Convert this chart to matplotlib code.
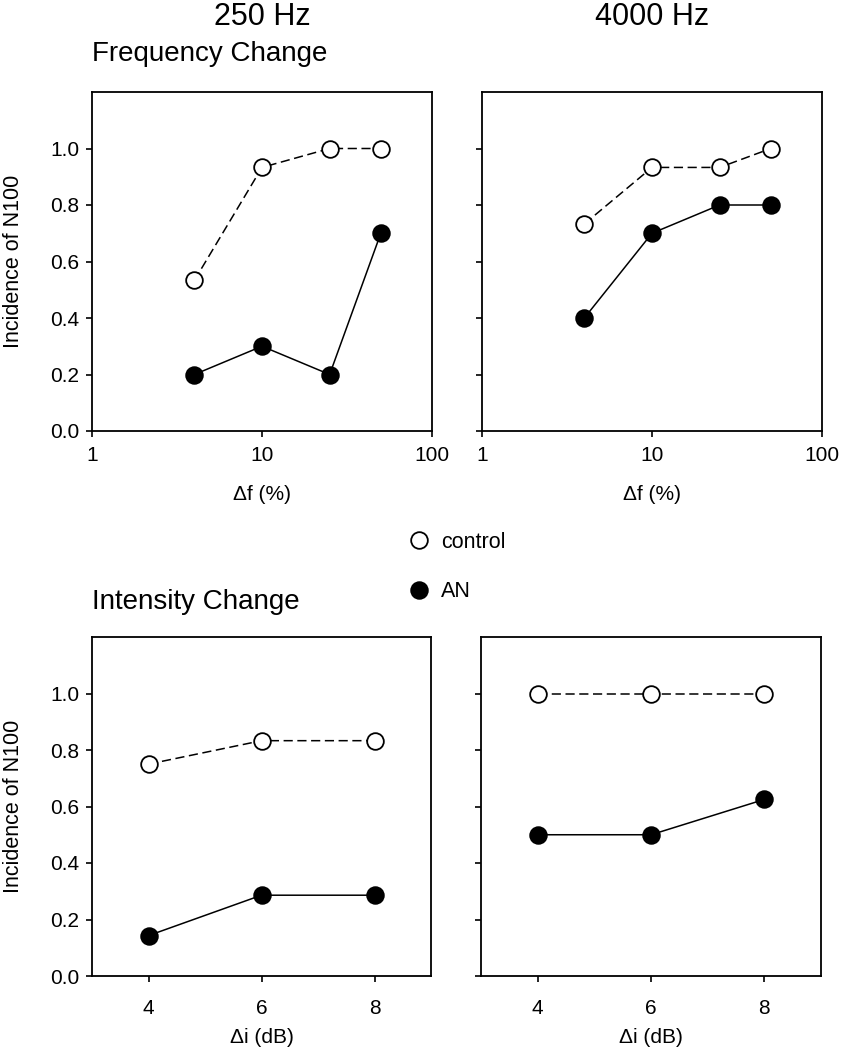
import matplotlib
matplotlib.use("Agg")
from matplotlib import pyplot as plt
from matplotlib.lines import Line2D

plt.rcParams['font.family'] = ['Liberation Sans', 'DejaVu Sans']

# frequency change (x = delta f in %)
df_pct = [4, 10, 25, 50]
f250_control = [0.533, 0.933, 1.0, 1.0]
f250_an = [0.2, 0.3, 0.2, 0.7]
f4000_control = [0.733, 0.933, 0.933, 1.0]
f4000_an = [0.4, 0.7, 0.8, 0.8]

# intensity change (x = delta i in dB)
di_db = [4, 6, 8]
i250_control = [0.75, 0.833, 0.833]
i250_an = [0.143, 0.286, 0.286]
i4000_control = [1.0, 1.0, 1.0]
i4000_an = [0.5, 0.5, 0.625]

W, H = 841, 1050
fig = plt.figure(figsize=(W / 100, H / 100), dpi=100)


def box(x0, y0, x1, y1):
    # pixel box -> figure fraction
    return [x0 / W, 1 - y1 / H, (x1 - x0) / W, (y1 - y0) / H]


ax_tl = fig.add_axes(box(92, 92, 432, 431))
ax_tr = fig.add_axes(box(482, 92, 822, 431))
ax_bl = fig.add_axes(box(92, 637, 431, 976))
ax_br = fig.add_axes(box(481, 637, 821, 976))

ms = 12
ctrl_kw = dict(color='black', ls=(0, (6, 3)), lw=1.1, marker='o', ms=ms,
               mfc='white', mec='black', mew=1.3)
an_kw = dict(color='black', ls='-', lw=1.1, marker='o', ms=ms,
             mfc='black', mec='black', mew=1.3)

ax_tl.plot(df_pct, f250_control, **ctrl_kw)
ax_tl.plot(df_pct, f250_an, **an_kw)
ax_tr.plot(df_pct, f4000_control, **ctrl_kw)
ax_tr.plot(df_pct, f4000_an, **an_kw)
ax_bl.plot(di_db, i250_control, **ctrl_kw)
ax_bl.plot(di_db, i250_an, **an_kw)
ax_br.plot(di_db, i4000_control, **ctrl_kw)
ax_br.plot(di_db, i4000_an, **an_kw)

yticks = [0.0, 0.2, 0.4, 0.6, 0.8, 1.0]
for ax in [ax_tl, ax_tr, ax_bl, ax_br]:
    ax.set_ylim(0, 1.2)
    ax.set_yticks(yticks)
    ax.set_yticklabels(['%.1f' % t for t in yticks])
    for s in ax.spines.values():
        s.set_linewidth(1.3)
    ax.tick_params(axis='both', which='major', direction='out', length=4,
                   width=1.2, labelsize=15, top=False, right=False)
    ax.tick_params(axis='y', pad=5)
    ax.minorticks_off()

for ax in [ax_tl, ax_tr]:
    ax.set_xscale('log')
    ax.set_xlim(1, 100)
    ax.set_xticks([1, 10, 100])
    ax.set_xticklabels(['1', '10', '100'])
    ax.minorticks_off()
    ax.tick_params(axis='x', pad=6.5)
    ax.set_xlabel('\u0394f (%)', fontsize=15, labelpad=15)

for ax in [ax_bl, ax_br]:
    ax.set_xlim(3, 9)
    ax.set_xticks(di_db)
    ax.tick_params(axis='x', pad=12.5)
    ax.set_xlabel('\u0394i (dB)', fontsize=15, labelpad=7)

for ax in [ax_tr, ax_br]:
    ax.tick_params(axis='y', labelleft=False)

for ax in [ax_tl, ax_bl]:
    ax.set_ylabel('Incidence of N100', fontsize=15.5)
    ax.yaxis.set_label_coords(-0.2, 0.5)

fig.text(262 / W, 1 - 17 / H, '250 Hz', fontsize=22, ha='center', va='center')
fig.text(652 / W, 1 - 17 / H, '4000 Hz', fontsize=22, ha='center', va='center')
fig.text(92 / W, 1 - 61 / H, 'Frequency Change', fontsize=20, ha='left', va='baseline')
fig.text(92 / W, 1 - 609 / H, 'Intensity Change', fontsize=20, ha='left', va='baseline')

handles = [
    Line2D([], [], ls='none', marker='o', ms=ms, mfc='white', mec='black', mew=1.3),
    Line2D([], [], ls='none', marker='o', ms=ms, mfc='black', mec='black', mew=1.3),
]
fig.legend(handles, ['control', 'AN'], loc='center left',
           bbox_to_anchor=(397 / W, 1 - 567 / H), frameon=False,
           fontsize=15.5, labelspacing=1.33, handlelength=1.0,
           handletextpad=0.55, borderpad=0)

fig.savefig('out.png', dpi=100)
